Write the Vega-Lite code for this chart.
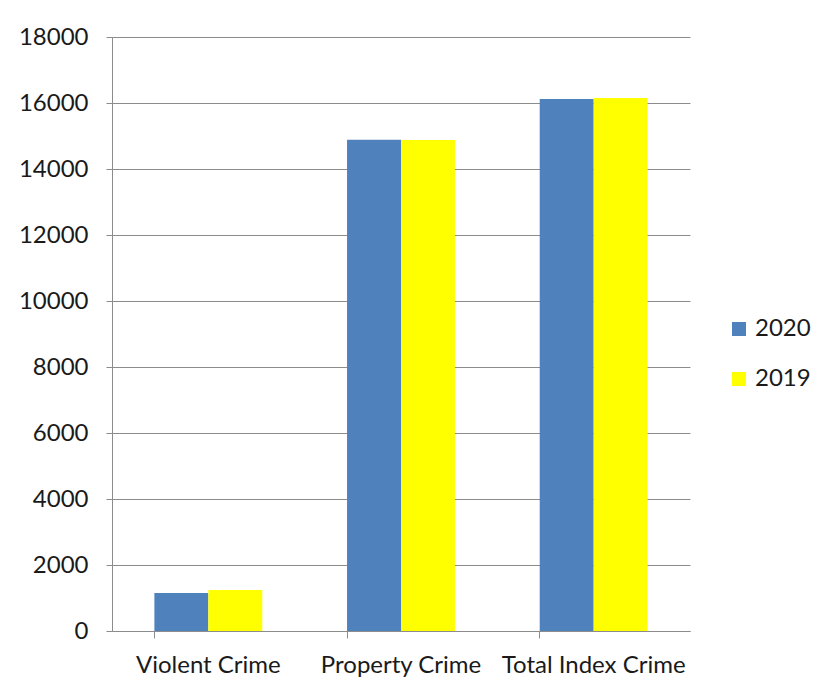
{
  "$schema": "https://vega.github.io/schema/vega-lite/v6.json",
  "autosize": "none",
  "width": 578,
  "height": 594,
  "padding": {"left": 112, "top": 37, "right": 143, "bottom": 60},
  "background": "white",
  "data": {
    "values": [
      {"category": "Violent Crime", "year": "2020", "count": 1150},
      {"category": "Violent Crime", "year": "2019", "count": 1240},
      {"category": "Property Crime", "year": "2020", "count": 14890},
      {"category": "Property Crime", "year": "2019", "count": 14880},
      {"category": "Total Index Crime", "year": "2020", "count": 16120},
      {"category": "Total Index Crime", "year": "2019", "count": 16150}
    ]
  },
  "config": {
    "view": {"stroke": null},
    "font": "Lato"
  },
  "mark": {"type": "bar"},
  "encoding": {
    "x": {
      "field": "category",
      "type": "nominal",
      "sort": ["Violent Crime", "Property Crime", "Total Index Crime"],
      "scale": {"paddingInner": 0.44, "paddingOuter": 0.22},
      "axis": {
        "title": null,
        "labelAngle": 0,
        "labelFont": "Lato",
        "labelFontSize": 24,
        "labelColor": "#1a1a1a",
        "labelPadding": 15,
        "labelLimit": 0,
        "labelOverlap": false,
        "bandPosition": 0,
        "tickSize": 7,
        "tickColor": "#8c8c8c",
        "domainColor": "#8c8c8c",
        "grid": false
      }
    },
    "xOffset": {
      "field": "year",
      "type": "nominal",
      "sort": ["2020", "2019"],
      "scale": {"paddingInner": 0, "paddingOuter": 0}
    },
    "y": {
      "field": "count",
      "type": "quantitative",
      "scale": {"domain": [0, 18000], "nice": false},
      "axis": {
        "title": null,
        "format": "d",
        "values": [0, 2000, 4000, 6000, 8000, 10000, 12000, 14000, 16000, 18000],
        "labelFont": "Lato",
        "labelFontSize": 24,
        "labelColor": "#1a1a1a",
        "labelPadding": 18,
        "tickSize": 6,
        "tickColor": "#8c8c8c",
        "domainColor": "#8c8c8c",
        "gridColor": "#8c8c8c",
        "gridWidth": 1
      }
    },
    "color": {
      "field": "year",
      "type": "nominal",
      "sort": ["2020", "2019"],
      "scale": {"domain": ["2020", "2019"], "range": ["#4f81bd", "#ffff00"]},
      "legend": {
        "title": null,
        "orient": "none",
        "legendX": 615,
        "legendY": 280,
        "symbolType": "square",
        "symbolSize": 196,
        "symbolStrokeWidth": 0,
        "labelFont": "Lato",
        "labelFontSize": 24,
        "labelColor": "#1a1a1a",
        "labelOffset": 4,
        "rowPadding": 26
      }
    }
  }
}
